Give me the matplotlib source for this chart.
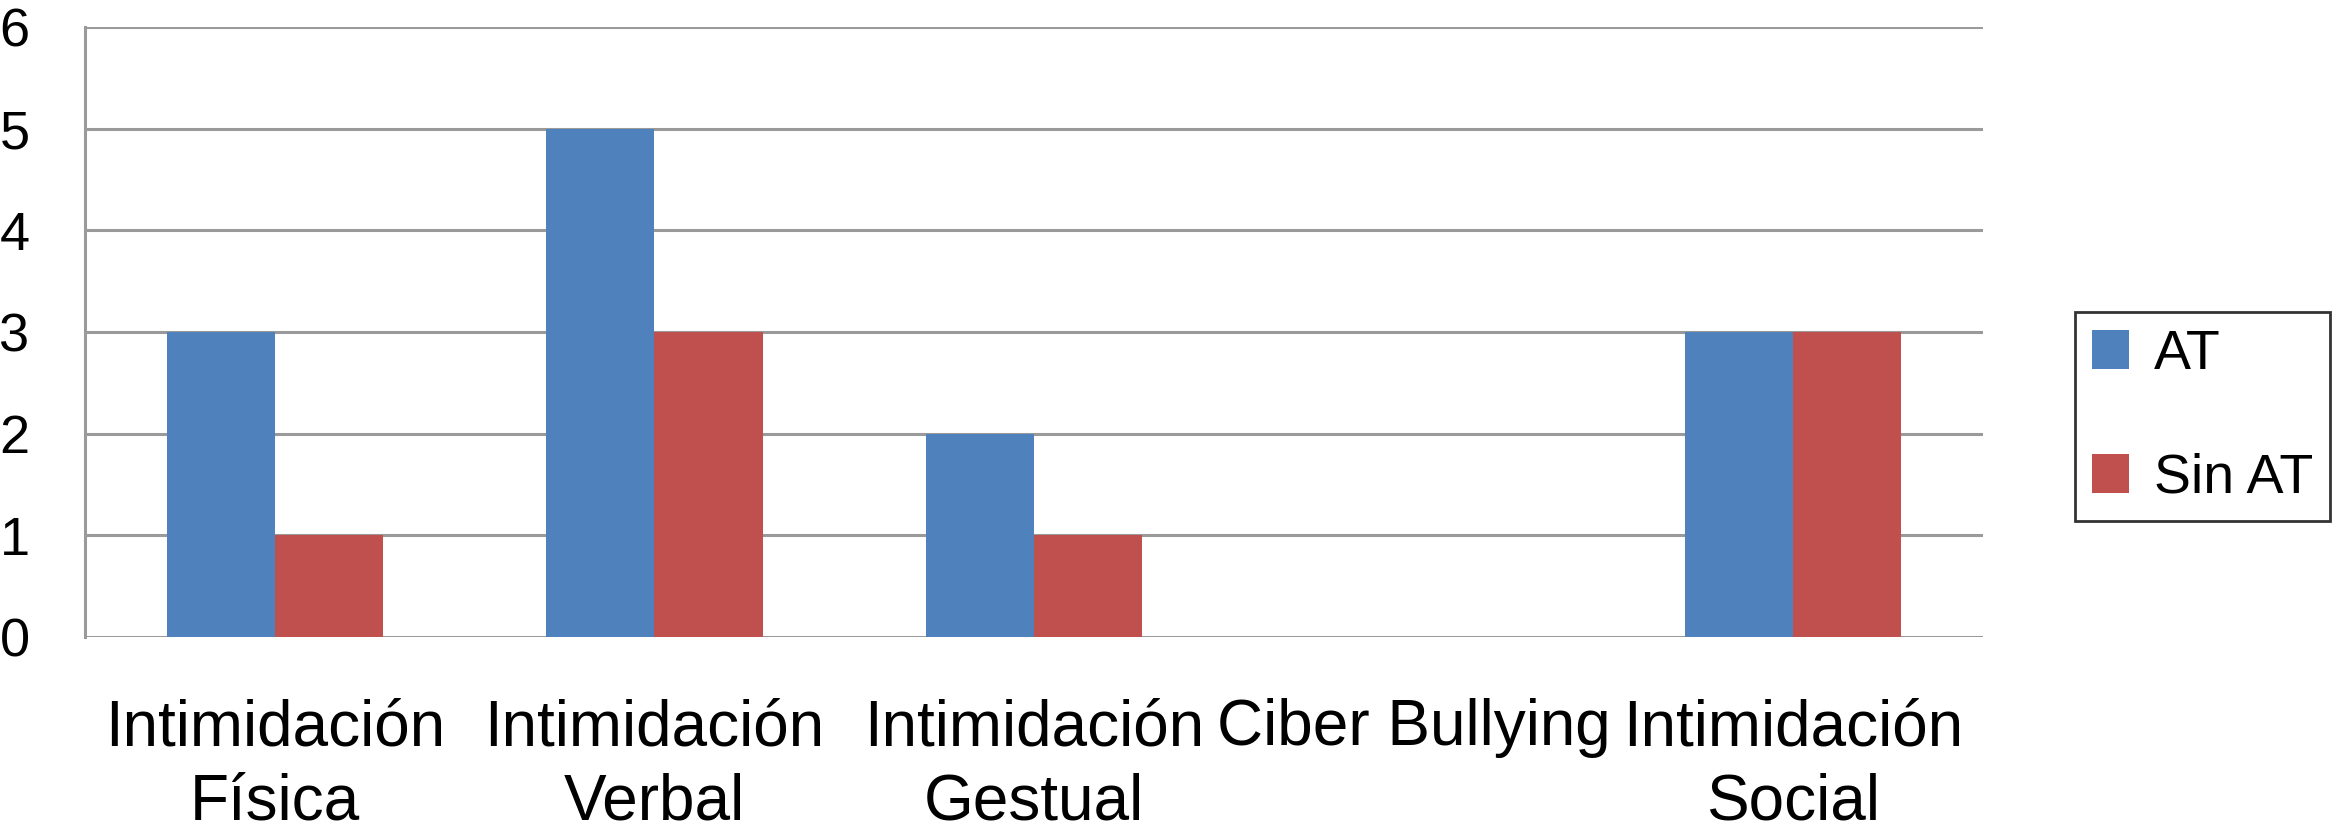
import numpy as np
import matplotlib
matplotlib.use("Agg")
import matplotlib.pyplot as plt

# datos del grafico
categorias = ["Intimidación\nFísica", "Intimidación\nVerbal", "Intimidación\nGestual",
              "Ciber Bullying", "Intimidación\nSocial"]
at = [3, 5, 2, 0, 3]
sin_at = [1, 3, 1, 0, 3]
yticks = [0, 1, 2, 3, 4, 5, 6]

plt.rcParams['font.family'] = ['Liberation Sans', 'DejaVu Sans']

fig = plt.figure(figsize=(23.37, 8.35), dpi=100)
ax = fig.add_axes([0.0364, 0.2371, 0.8121, 0.7306])

x = np.arange(len(categorias))
w = 0.285
ax.bar(x - w / 2, at, w, color='#4F81BD', label='AT', zorder=3)
ax.bar(x + w / 2, sin_at, w, color='#C0504D', label='Sin AT', zorder=3)

ax.set_xlim(-0.5, len(categorias) - 0.5)
ax.set_ylim(0, 6)
ax.set_yticks(yticks)
ax.set_yticklabels([str(v) for v in yticks], fontsize=39)
ax.set_xticks(x)
ax.set_xticklabels(categorias, fontsize=46, linespacing=1.3)
ax.tick_params(axis='y', length=0, pad=40)
ax.tick_params(axis='x', length=0, pad=44)

# lineas de cuadricula
for v in yticks:
    ax.axhline(v, color='#9a9a9a', linewidth=2.2, zorder=1)
for s in ['top', 'right', 'bottom']:
    ax.spines[s].set_visible(False)
ax.spines['left'].set_color('#9a9a9a')
ax.spines['left'].set_linewidth(2.2)

leg = fig.legend(loc='center left', bbox_to_anchor=(0.888, 0.501), fontsize=40,
                 frameon=True, fancybox=False, handlelength=0.66, handleheight=0.7,
                 handletextpad=0.45, labelspacing=1.3, borderpad=0.3,
                 borderaxespad=0)
leg.get_frame().set_edgecolor('black')
leg.get_frame().set_linewidth(2)

fig.savefig("out.png", dpi=100)
